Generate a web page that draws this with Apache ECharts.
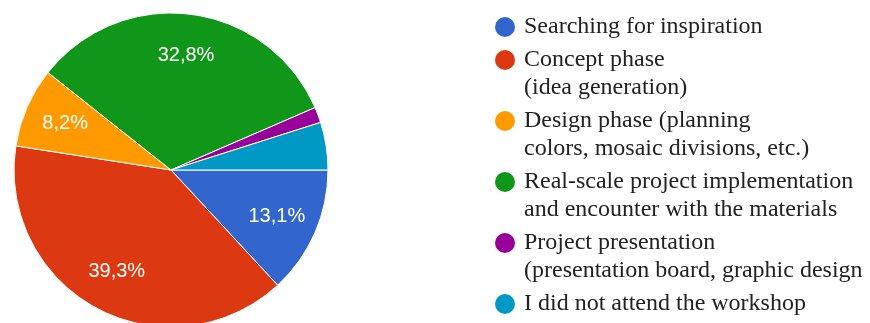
<!DOCTYPE html>
<html>
<head>
<meta charset="utf-8">
<style>
  html, body { margin: 0; padding: 0; background: #fff; }
  #chart { width: 870px; height: 323px; }
</style>
<script src="https://cdn.jsdelivr.net/npm/echarts@6/dist/echarts.min.js"></script>
</head>
<body>
<div id="chart"></div>
<script>
// Workshop phases (share of respondents, %)
const categories = [
  'Searching for inspiration',
  'Concept phase\n(idea generation)',
  'Design phase (planning\ncolors, mosaic divisions, etc.)',
  'Real-scale project implementation\nand encounter with the materials',
  'Project presentation\n(presentation board, graphic design',
  'I did not attend the workshop'
];
const shares = [13.1, 39.3, 8.2, 32.8, 1.6, 4.9];
const colors = ['#3366cc', '#dc3912', '#ff9900', '#109618', '#990099', '#0099c6'];

const data = categories.map((name, i) => ({ name, value: shares[i] }));

// legend rows: coloured dot on the first line, later lines indented to the text
const rich = {
  t: { fontFamily: 'Liberation Serif', fontSize: 24, color: '#222', lineHeight: 28 },
  gap: { width: 9, lineHeight: 28 },
  ind: { width: 29, lineHeight: 28 }
};
colors.forEach((c, i) => {
  rich['d' + i] = { width: 20, height: 20, borderRadius: 10, backgroundColor: c, lineHeight: 28 };
});

const fmtPct = v => v.toFixed(1).replace('.', ',') + '%';

const chart = echarts.init(document.getElementById('chart'), null, { renderer: 'canvas' });
chart.setOption({
  backgroundColor: '#fff',
  animation: false,
  color: colors,
  legend: {
    orient: 'vertical',
    left: 489,
    top: 15,
    padding: 0,
    itemGap: 9,
    itemWidth: 0,
    itemHeight: 0,
    data: categories,
    formatter: name => {
      const i = categories.indexOf(name);
      return name.split('\n')
        .map((ln, k) => (k === 0 ? '{d' + i + '|}{gap|}' : '{ind|}') + '{t|' + ln + '}')
        .join('\n');
    },
    textStyle: { rich }
  },
  series: [
    {
      name: 'slices',
      type: 'pie',
      center: [171, 170],
      radius: [0, 157],
      startAngle: 0,
      clockwise: true,
      avoidLabelOverlap: false,
      itemStyle: { borderColor: '#fff', borderWidth: 1 },
      label: { show: false },
      labelLine: { show: false },
      emphasis: { disabled: true },
      data
    },
    {
      // transparent ring that only carries the percentage labels
      name: 'labels',
      type: 'pie',
      center: [171, 170],
      radius: [68, 157],
      startAngle: 0,
      clockwise: true,
      silent: true,
      avoidLabelOverlap: false,
      minShowLabelAngle: 20,
      itemStyle: { color: 'rgba(0,0,0,0)', borderWidth: 0 },
      label: {
        show: true,
        position: 'inside',
        color: '#fff',
        fontFamily: 'Liberation Sans',
        fontSize: 20,
        formatter: p => fmtPct(p.value)
      },
      labelLine: { show: false },
      emphasis: { disabled: true },
      data
    }
  ]
});
</script>
</body>
</html>
